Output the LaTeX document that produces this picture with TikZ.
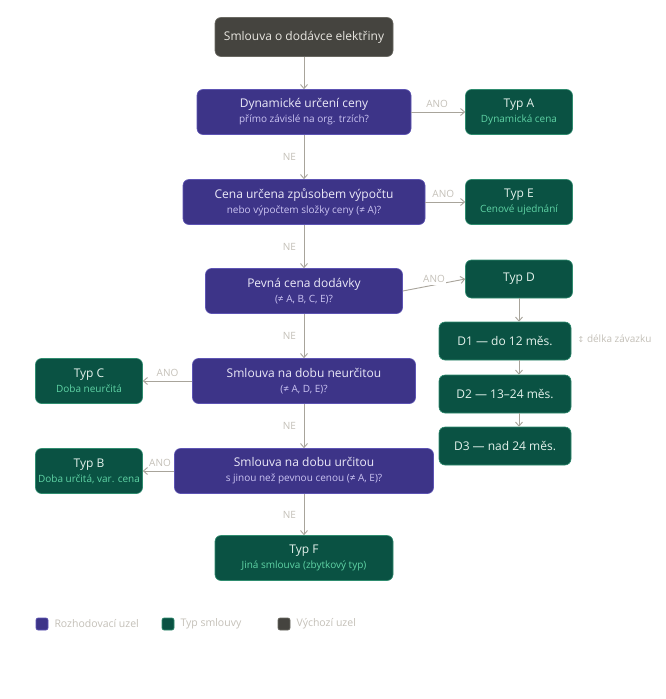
\documentclass[tikz,border=0pt]{standalone}
\usepackage{fontspec}
\setmainfont{Open Sans}
\newfontfamily\symfont{DejaVu Sans}
\usetikzlibrary{positioning,arrows.meta}
\definecolor{qfill}{HTML}{3D3488}
\definecolor{qdraw}{HTML}{5D54B3}
\definecolor{qtext}{HTML}{ECEAF8}
\definecolor{qsub}{HTML}{CBC4F2}
\definecolor{tfill}{HTML}{0A5243}
\definecolor{tdraw}{HTML}{2F8C6F}
\definecolor{ttext}{HTML}{E4F2EC}
\definecolor{tsub}{HTML}{5FD3A5}
\definecolor{sfill}{HTML}{45443F}
\definecolor{sdraw}{HTML}{6A6962}
\definecolor{stext}{HTML}{E8E6E0}
\definecolor{linecol}{HTML}{A8A49B}
\definecolor{labcol}{HTML}{C4C0B8}
\tikzset{
  flowarrow/.style={-{Straight Barb[length=4pt,width=7pt]}, linecol, line width=0.9pt},
  question/.style={draw=qdraw, fill=qfill, text=qtext, rounded corners=6pt, line width=0.6pt, minimum height=45pt, align=center, font=\fontsize{12}{15}\selectfont},
  typebox/.style={draw=tdraw, fill=tfill, text=ttext, rounded corners=6pt, line width=0.6pt, minimum width=107pt, minimum height=45pt, align=center, font=\fontsize{12}{15}\selectfont},
  startbox/.style={draw=sdraw, fill=sfill, text=stext, rounded corners=6pt, line width=0.6pt, minimum width=178pt, minimum height=39pt, align=center, font=\fontsize{12}{15}\selectfont},
  durbox/.style={typebox, minimum width=132pt, minimum height=38pt},
  anslabel/.style={text=labcol, font=\fontsize{10}{12}\selectfont, inner sep=1.5pt},
  swatch/.style={rounded corners=2pt, minimum size=12pt, inner sep=0pt, line width=0.6pt},
  legtext/.style={text=labcol, font=\fontsize{10.5}{12}\selectfont, anchor=west, inner sep=0pt}
}
% second (smaller) line inside a box
\newcommand{\qline}[1]{\\[0pt]{\color{qsub}\fontsize{10}{12}\selectfont #1}}
\newcommand{\tline}[1]{\\[0pt]{\color{tsub}\fontsize{10}{12}\selectfont #1}}
\begin{document}
\begin{tikzpicture}[x=1pt, y=-1pt]
  \useasboundingbox[fill=white] (0,0) rectangle (665,699);
  % start and decisions
  \node[startbox] (start) at (304,37) {Smlouva o dodávce elektřiny};
  \node[question, minimum width=214pt] (q1) at (304,112) {Dynamické určení ceny\qline{přímo závislé na org. trzích?}};
  \node[question, minimum width=242pt] (q2) at (304,202) {Cena určena způsobem výpočtu\qline{nebo výpočtem složky ceny (≠ A)?}};
  \node[question, minimum width=197pt] (q3) at (304,291) {Pevná cena dodávky\qline{(≠ A, B, C, E)?}};
  \node[question, minimum width=223pt] (q4) at (304,381) {Smlouva na dobu neurčitou\qline{(≠ A, D, E)?}};
  \node[question, minimum width=259pt] (q5) at (304,471) {Smlouva na dobu určitou\qline{s jinou než pevnou cenou (≠ A, E)?}};
  % contract types
  \node[typebox] (tA) at (519,112) {Typ A\tline{Dynamická cena}};
  \node[typebox] (tE) at (519,202) {Typ E\tline{Cenové ujednání}};
  \node[typebox, minimum height=38pt] (tD) at (519,279) {Typ D};
  \node[typebox] (tC) at (89,381) {Typ C\tline{Doba neurčitá}};
  \node[typebox, inner xsep=1pt] (tB) at (89,471) {Typ B\tline{Doba určitá, var. cena}};
  \node[typebox, minimum width=178pt] (tF) at (304,558) {Typ F\tline{Jiná smlouva (zbytkový typ)}};
  % D variants
  \node[durbox] (d1) at (505,341) {D1 — do 12 měs.};
  \node[durbox] (d2) at (505,394) {D2 — 13–24 měs.};
  \node[durbox] (d3) at (505,446) {D3 — nad 24 měs.};
  \node[anslabel, anchor=west] (dlen) at (576,339) {{\symfont\fontsize{8}{10}\selectfont ↕} délka závazku};
  % connectors
  \draw[flowarrow] (start) -- (q1);
  \draw[flowarrow] (q1) -- node[anslabel, left=6pt] {NE} (q2);
  \draw[flowarrow] (q2) -- node[anslabel, left=6pt] {NE} (q3);
  \draw[flowarrow] (q3) -- node[anslabel, left=6pt] {NE} (q4);
  \draw[flowarrow] (q4) -- node[anslabel, left=6pt] {NE} (q5);
  \draw[flowarrow] (q5) -- node[anslabel, left=6pt] {NE} (tF);
  \draw[flowarrow] (q1) -- node[anslabel, above=2pt, pos=0.48] {ANO} (tA);
  \draw[flowarrow] (q2) -- node[anslabel, above=2pt, pos=0.45] {ANO} (tE);
  \draw[flowarrow] (q3.east) -- node[anslabel, fill=white, above=0pt, pos=0.5] {ANO} (tD.west);
  \draw[flowarrow] (q4) -- node[anslabel, above=2pt] {ANO} (tC);
  \draw[flowarrow] (q5) -- node[anslabel, above=2pt, pos=0.45] {ANO} (tB);
  \draw[flowarrow] (tD.south) -- (tD.south |- d1.north);
  \draw[flowarrow] (tD.south |- d1.south) -- (tD.south |- d2.north);
  \draw[flowarrow] (tD.south |- d2.south) -- (tD.south |- d3.north);
  % legend
  \node[swatch, draw=qdraw, fill=qfill] (lq) at (42,624) {};
  \node[legtext, right=6pt of lq] (lqt) {Rozhodovací uzel};
  \node[swatch, draw=tdraw, fill=tfill] (lt) at (168,624) {};
  \node[legtext, right=6pt of lt] (ltt) {Typ smlouvy};
  \node[swatch, draw=sdraw, fill=sfill] (ls) at (284,624) {};
  \node[legtext, right=6pt of ls] (lst) {Výchozí uzel};
\end{tikzpicture}
\end{document}
